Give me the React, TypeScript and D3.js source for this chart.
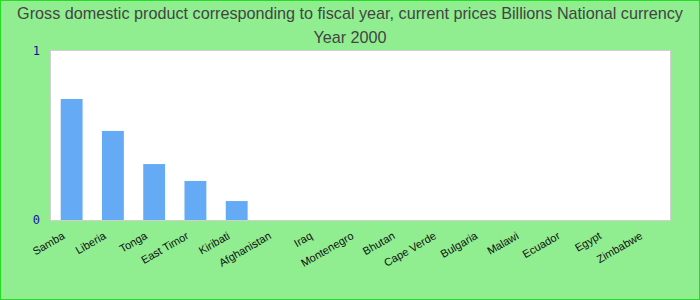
import React from "react";
import * as d3 from "d3";

const categories = ["Samba", "Liberia", "Tonga", "East Timor", "Kiribati", "Afghanistan", "Iraq", "Montenegro", "Bhutan", "Cape Verde", "Bulgaria", "Malawi", "Ecuador", "Egypt", "Zimbabwe"];
const values = [0.716, 0.527, 0.331, 0.231, 0.112, 0, 0, 0, 0, 0, 0, 0, 0, 0, 0];
const yTicks = [0, 1];
const titleLines = ["Gross domestic product corresponding to fiscal year, current prices Billions National currency", "Year 2000"];

export default function App() {
  const W = 700, H = 300;
  const left = 51, right = 670, top = 51, bottom = 220;
  const x = d3.scaleBand<string>().domain(categories).range([left, right]).paddingInner(0.47).paddingOuter(0.235);
  const y = d3.scaleLinear().domain([0, 1]).range([bottom, top]);
  return (
    <svg width={W} height={H} style={{ position: "absolute", left: 0, top: 0 }}>
      <rect x={0.5} y={0.5} width={W - 1} height={H - 1} fill="#90ee90" stroke="#22dd22" strokeWidth={1} />
      {titleLines.map((t, i) => (
        <text key={i} x={W / 2} y={19 + i * 24} textAnchor="middle" fontFamily="Liberation Sans, Arial, sans-serif" fontSize={16.2} fill="#444">{t}</text>
      ))}
      <rect x={left - 0.5} y={top - 0.5} width={right - left + 1} height={bottom - top + 1} fill="#fff" stroke="#d0d0d0" strokeWidth={1} />
      {categories.map((c, i) => (
        <rect key={c} x={x(c)} y={y(values[i])} width={x.bandwidth()} height={bottom - y(values[i])} fill="#64aaf4" />
      ))}
      {yTicks.map((t) => (
        <text key={t} x={40} y={y(t)} dy="0.35em" textAnchor="end" fontFamily="DejaVu Sans Mono, monospace" fontSize={12} fill="#1010a0">{t}</text>
      ))}
      {categories.map((c) => {
        const cx = (x(c) as number) + x.bandwidth() / 2;
        return (
          <text key={c} transform={`translate(${cx - 6},${238}) rotate(-30)`} textAnchor="end" fontFamily="Liberation Sans, Arial, sans-serif" fontSize={11} fill="#111">{c}</text>
        );
      })}
    </svg>
  );
}
